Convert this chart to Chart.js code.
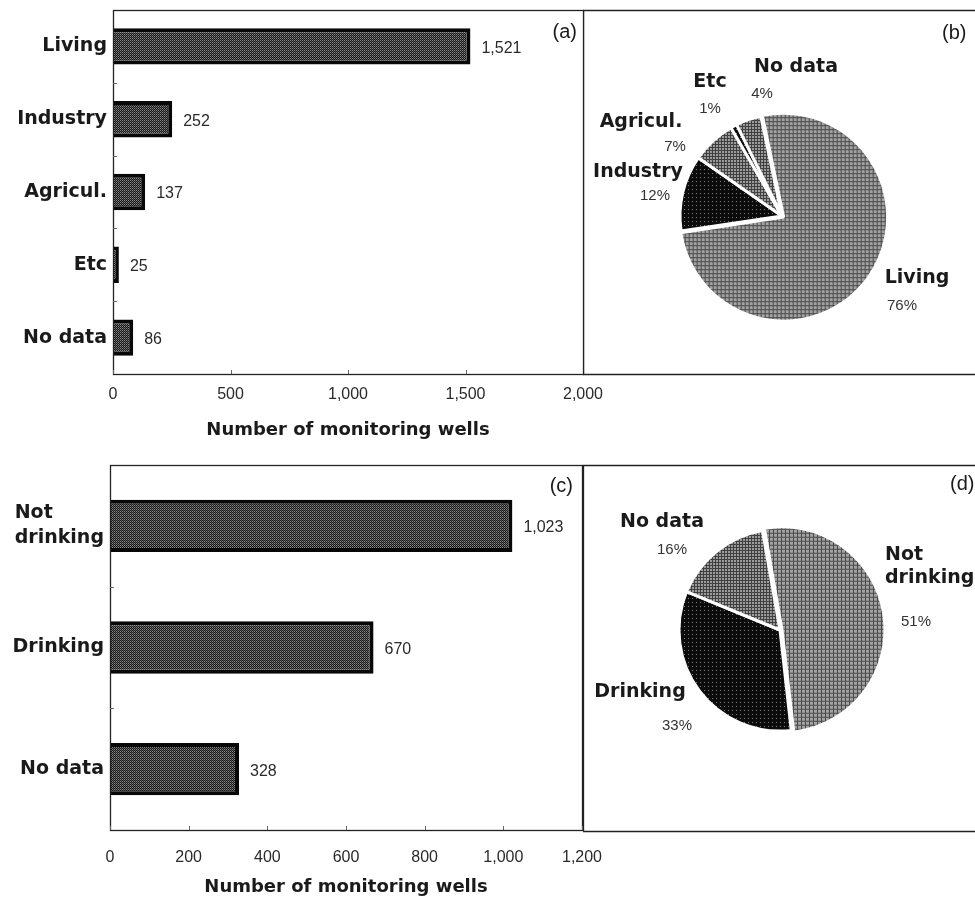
<!DOCTYPE html>
<html>
<head>
<meta charset="utf-8">
<script src="https://cdn.jsdelivr.net/npm/chart.js@4/dist/chart.umd.min.js"></script>
<style>
  html, body { margin: 0; padding: 0; background: #fff; }
  #wrap { position: relative; width: 975px; height: 903px; overflow: hidden; background: #fff; }
  canvas { position: absolute; }
</style>
</head>
<body>
<div id="wrap">
  <canvas id="usageBar" width="610" height="445" style="left:0;top:0"></canvas>
  <canvas id="usagePie" width="392" height="445" style="left:583px;top:0"></canvas>
  <canvas id="drinkBar" width="610" height="458" style="left:0;top:445px"></canvas>
  <canvas id="drinkPie" width="392" height="458" style="left:583px;top:445px"></canvas>
</div>
<script>
// ---- data -------------------------------------------------------------
const usageCategories = ['Living', 'Industry', 'Agricul.', 'Etc', 'No data'];
const usageWells      = [1521, 252, 137, 25, 86];
const usageShares     = [76, 12, 7, 1, 4];          // percent of wells

const drinkCategories = [['Not', 'drinking'], 'Drinking', 'No data'];
const drinkWells      = [1023, 670, 328];
const drinkShares     = [51, 33, 16];               // percent of wells

const usageAxisMax = 2000, usageAxisStep = 500;
const drinkAxisMax = 1200, drinkAxisStep = 200;
const axisTitle = 'Number of monitoring wells';

// ---- look -------------------------------------------------------------
const BOLD = '"DejaVu Sans", sans-serif';
const REG  = '"Liberation Sans", Arial, sans-serif';
const INK  = '#1a1a1a';
const fmt = v => v.toLocaleString('en-US');

function halftone(size, base, marks) {
  const c = document.createElement('canvas');
  c.width = c.height = size;
  const g = c.getContext('2d');
  g.fillStyle = base;
  g.fillRect(0, 0, size, size);
  marks.forEach(([x, y, w, h, col]) => { g.fillStyle = col; g.fillRect(x, y, w, h); });
  return g.createPattern(c, 'repeat');
}
const barFill   = halftone(2, '#161616', [[0, 0, 1, 1, '#8c8c8c'], [1, 1, 1, 1, '#5a5a5a']]);
const lightFill = halftone(4, '#a2a2a2', [[0, 0, 4, 1, '#4a4a4a'], [0, 0, 1, 4, '#4a4a4a']]);
const midFill   = halftone(3, '#9c9c9c', [[0, 0, 3, 1, '#404040'], [0, 0, 1, 3, '#404040']]);
const darkFill  = halftone(4, '#0c0c0c', [[1, 1, 1, 1, '#808080']]);

Chart.defaults.animation = false;
Chart.defaults.color = INK;

// ---- plugins ----------------------------------------------------------
// frame round the plot area with short inward tick marks
const framePlugin = {
  id: 'frame',
  afterDraw(chart) {
    const { ctx, chartArea: a } = chart;
    const xs = chart.scales.x, ys = chart.scales.y;
    ctx.save();
    ctx.strokeStyle = '#222';
    ctx.lineWidth = 1.3;
    ctx.strokeRect(a.left + 0.5, a.top + 0.5, a.right - a.left, a.bottom - a.top);
    ctx.lineWidth = 1;
    ctx.strokeStyle = '#666';
    ctx.beginPath();
    xs.ticks.forEach(t => {
      const px = Math.round(xs.getPixelForValue(t.value)) + 0.5;
      ctx.moveTo(px, a.bottom); ctx.lineTo(px, a.bottom - 4);
    });
    for (let i = 1; i < ys.ticks.length; i++) {
      const py = Math.round((ys.getPixelForValue(i - 1) + ys.getPixelForValue(i)) / 2) + 0.5;
      ctx.moveTo(a.left, py); ctx.lineTo(a.left + 4, py);
    }
    ctx.stroke();
    ctx.restore();
  }
};

// category names left of the plot: a wrapped name keeps its lines
// left-aligned inside a right-aligned block
const categoryPlugin = {
  id: 'categories',
  afterDraw(chart) {
    const { ctx, chartArea: a } = chart;
    const ys = chart.scales.y;
    const lineH = 25;
    ctx.save();
    ctx.font = 'bold 19px ' + BOLD;
    ctx.fillStyle = INK;
    ctx.textBaseline = 'middle';
    ctx.textAlign = 'left';
    chart.data.labels.forEach((lab, i) => {
      const lines = [].concat(lab);
      const w = Math.max(...lines.map(l => ctx.measureText(l).width));
      const x0 = a.left - 6 - w;
      const yc = ys.getPixelForValue(i);
      lines.forEach((l, k) => ctx.fillText(l, x0, yc + (k - (lines.length - 1) / 2) * lineH));
    });
    ctx.restore();
  }
};

// value written right of each bar
const barValuePlugin = {
  id: 'barValues',
  afterDatasetsDraw(chart) {
    const { ctx } = chart;
    const meta = chart.getDatasetMeta(0);
    const vals = chart.data.datasets[0].data;
    ctx.save();
    ctx.font = '16px ' + REG;
    ctx.fillStyle = '#2a2a2a';
    ctx.textAlign = 'left';
    ctx.textBaseline = 'middle';
    meta.data.forEach((bar, i) => ctx.fillText(fmt(vals[i]), bar.x + 11, bar.y + 2));
    ctx.restore();
  }
};

// panel letter, e.g. "(a)"
const panelTagPlugin = {
  id: 'panelTag',
  afterDraw(chart, args, o) {
    const { ctx } = chart;
    ctx.save();
    ctx.font = '20px ' + REG;
    ctx.fillStyle = INK;
    ctx.textAlign = o.align;
    ctx.textBaseline = 'middle';
    const x = o.fromRight ? chart.chartArea.right - o.x : o.x;
    ctx.fillText(o.text, x, o.fromRight ? chart.chartArea.top + o.y : o.y);
    ctx.restore();
  }
};

// open box (top, left, bottom) behind a pie
const pieBoxPlugin = {
  id: 'pieBox',
  beforeDraw(chart, args, o) {
    const { ctx, width } = chart;
    ctx.save();
    ctx.strokeStyle = '#222';
    ctx.lineWidth = 1.3;
    ctx.beginPath();
    ctx.moveTo(width, o.top + 0.5);
    ctx.lineTo(0.5, o.top + 0.5);
    ctx.lineTo(0.5, o.bottom + 0.5);
    ctx.lineTo(width, o.bottom + 0.5);
    ctx.stroke();
    ctx.restore();
  }
};

// category name (bold) and share (regular) beside each slice
const pieLabelPlugin = {
  id: 'pieLabels',
  afterDatasetsDraw(chart, args, o) {
    const { ctx } = chart;
    const meta = chart.getDatasetMeta(0);
    const cx = meta.data[0].x, cy = meta.data[0].y;
    const names = chart.data.labels, vals = chart.data.datasets[0].data;
    ctx.save();
    ctx.textBaseline = 'middle';
    o.place.forEach((p, i) => {
      const lines = [].concat(names[i]);
      ctx.font = 'bold 19px ' + BOLD;
      ctx.fillStyle = INK;
      ctx.textAlign = p.nameAlign || 'center';
      lines.forEach((ln, k) => ctx.fillText(ln, cx + p.name[0], cy + p.name[1] + k * 23));
      ctx.font = '15px ' + REG;
      ctx.fillStyle = '#333';
      ctx.textAlign = 'center';
      ctx.fillText(vals[i] + '%', cx + p.pct[0], cy + p.pct[1]);
    });
    ctx.restore();
  }
};

// ---- builders ---------------------------------------------------------
function barChart(id, cats, vals, max, step, L) {
  return new Chart(document.getElementById(id), {
    type: 'bar',
    data: {
      labels: cats,
      datasets: [{
        data: vals,
        backgroundColor: barFill,
        borderColor: '#080808',
        borderWidth: 4,
        borderSkipped: 'start',
        barPercentage: L.barPct,
        categoryPercentage: 1
      }]
    },
    options: {
      indexAxis: 'y',
      responsive: false,
      devicePixelRatio: 1,
      layout: { padding: L.padding },
      plugins: {
        legend: { display: false },
        tooltip: { enabled: false },
        panelTag: { text: L.tag, x: L.tagX, y: L.tagY, align: 'right', fromRight: true }
      },
      scales: {
        x: {
          min: 0, max: max,
          border: { display: false },
          grid: { display: false, drawTicks: false },
          ticks: { stepSize: step, padding: L.tickPad, font: { family: REG, size: 16 }, color: '#2a2a2a',
                   callback: v => fmt(v) },
          title: { display: true, text: axisTitle, font: { family: BOLD, size: 18, weight: 'bold' },
                   color: INK, padding: { top: 0, bottom: L.titlePad } },
          afterFit: s => { s.height = L.xHeight; s.paddingLeft = 0; s.paddingRight = 0; }
        },
        y: {
          border: { display: false },
          grid: { display: false, drawTicks: false },
          ticks: { display: false },
          afterFit: s => { s.width = L.yWidth; s.paddingTop = 0; s.paddingBottom = 0; }
        }
      }
    },
    plugins: [framePlugin, categoryPlugin, barValuePlugin, panelTagPlugin]
  });
}

function pieChart(id, cats, shares, fills, offsets, rotation, L) {
  return new Chart(document.getElementById(id), {
    type: 'pie',
    data: {
      labels: cats,
      datasets: [{
        data: shares,
        backgroundColor: fills,
        borderColor: '#fff',
        borderWidth: 3,
        offset: offsets
      }]
    },
    options: {
      responsive: false,
      devicePixelRatio: 1,
      rotation: rotation,
      radius: L.radius,
      layout: { padding: L.padding },
      plugins: {
        legend: { display: false },
        tooltip: { enabled: false },
        pieBox: { top: L.boxTop, bottom: L.boxBottom },
        pieLabels: { place: L.place },
        panelTag: { text: L.tag, x: L.tagX, y: L.tagY, align: 'left', fromRight: false }
      }
    },
    plugins: [pieBoxPlugin, pieLabelPlugin, panelTagPlugin]
  });
}

// ---- panels -----------------------------------------------------------
barChart('usageBar', usageCategories, usageWells, usageAxisMax, usageAxisStep, {
  barPct: 0.5, padding: { left: 0, top: 10, right: 27, bottom: 0 },
  yWidth: 113, xHeight: 71, tickPad: 11, titlePad: 4,
  tag: '(a)', tagX: 6, tagY: 22
});

pieChart('usagePie', usageCategories, usageShares,
  [lightFill, darkFill, midFill, darkFill, midFill], [8, 0, 0, 0, 0], -12, {
  radius: 102, padding: { left: 20, right: 14, top: 0, bottom: 13 },
  boxTop: 10, boxBottom: 374, tag: '(b)', tagX: 359, tagY: 33,
  place: [
    { name: [135, 62],   pct: [120, 90] },
    { name: [-144, -44], pct: [-127, -20] },
    { name: [-141, -94], pct: [-107, -69] },
    { name: [-72, -134], pct: [-72, -107] },
    { name: [14, -149],  pct: [-20, -122] }
  ]
});

barChart('drinkBar', drinkCategories, drinkWells, drinkAxisMax, drinkAxisStep, {
  barPct: 0.43, padding: { left: 0, top: 20, right: 28, bottom: 0 },
  yWidth: 110, xHeight: 73, tickPad: 18, titlePad: 5,
  tag: '(c)', tagX: 9, tagY: 21
});

pieChart('drinkPie', drinkCategories, drinkShares,
  [lightFill, darkFill, midFill], [8, 0, 0], -10, {
  radius: 101, padding: { left: 20, right: 18, top: 0, bottom: 88 },
  boxTop: 20, boxBottom: 386, tag: '(d)', tagX: 367, tagY: 39,
  place: [
    { name: [105, -75], nameAlign: 'left', pct: [136, -8] },
    { name: [-140, 62],  pct: [-103, 96] },
    { name: [-118, -108], pct: [-108, -80] }
  ]
});
</script>
</body>
</html>
